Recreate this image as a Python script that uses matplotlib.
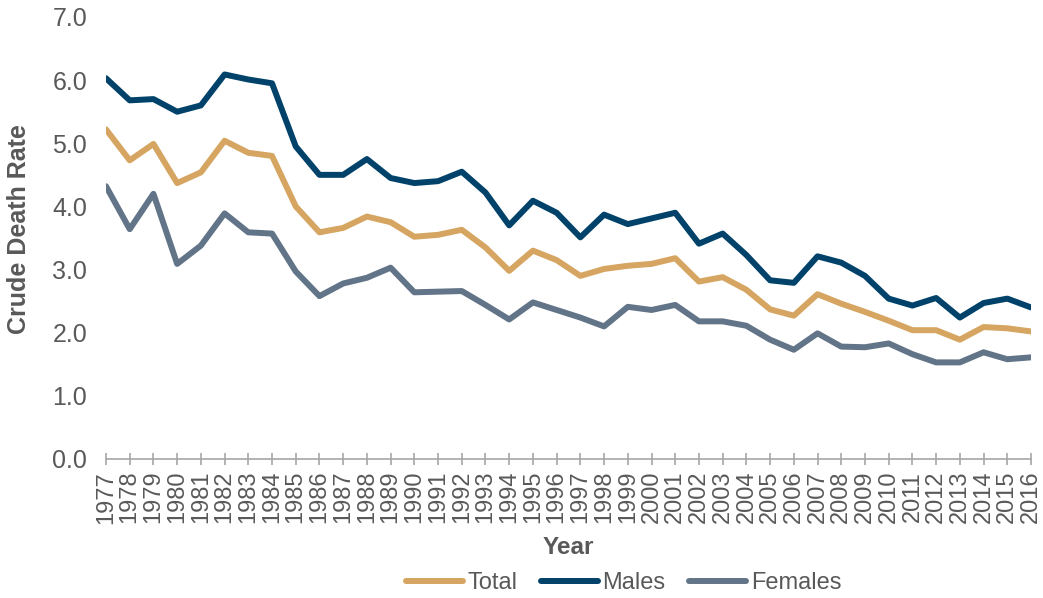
import numpy as np
import matplotlib
matplotlib.use("Agg")
import matplotlib.pyplot as plt

plt.rcParams["font.family"] = ["Liberation Sans", "DejaVu Sans"]

years = list(range(1977, 2017))

total = [5.22, 4.73, 4.99, 4.37, 4.54, 5.04, 4.85, 4.80, 4.00, 3.59,
         3.66, 3.84, 3.75, 3.52, 3.55, 3.63, 3.35, 2.98, 3.30, 3.15,
         2.90, 3.01, 3.06, 3.09, 3.18, 2.81, 2.88, 2.68, 2.37, 2.27,
         2.61, 2.46, 2.33, 2.19, 2.04, 2.04, 1.89, 2.09, 2.07, 2.02]

males = [6.03, 5.68, 5.70, 5.50, 5.60, 6.09, 6.01, 5.95, 4.95, 4.50,
         4.50, 4.75, 4.45, 4.37, 4.40, 4.55, 4.22, 3.70, 4.09, 3.90,
         3.51, 3.87, 3.72, 3.81, 3.90, 3.41, 3.57, 3.23, 2.83, 2.79,
         3.21, 3.11, 2.90, 2.54, 2.43, 2.55, 2.24, 2.47, 2.54, 2.40]

females = [4.32, 3.64, 4.20, 3.09, 3.38, 3.89, 3.59, 3.57, 2.97, 2.58,
           2.78, 2.87, 3.03, 2.64, 2.65, 2.66, 2.44, 2.21, 2.48, 2.36,
           2.24, 2.10, 2.41, 2.36, 2.44, 2.18, 2.18, 2.11, 1.89, 1.73,
           1.99, 1.78, 1.77, 1.83, 1.66, 1.53, 1.53, 1.69, 1.58, 1.61]

c_total = "#D5A561"
c_males = "#00426A"
c_females = "#627487"
txt = "#595959"

fig = plt.figure(figsize=(10.43, 5.98), dpi=100)
ax = fig.add_axes([106 / 1043, 1 - 459 / 598, (1031 - 106) / 1043, (459 - 17) / 598])

lw = 4.3
ax.plot(years, total, color=c_total, lw=lw, label="Total", solid_capstyle="round")
ax.plot(years, males, color=c_males, lw=lw, label="Males", solid_capstyle="round")
ax.plot(years, females, color=c_females, lw=lw, label="Females", solid_capstyle="round")

ax.set_xlim(1977, 2016)
ax.set_ylim(0, 7)
ax.set_yticks(np.arange(0, 7.1, 1.0))
ax.set_yticklabels([f"{v:.1f}" for v in np.arange(0, 7.1, 1.0)])
ax.set_xticks(years)
ax.set_xticklabels([str(y) for y in years], rotation=90)

for s in ["top", "right", "left"]:
    ax.spines[s].set_visible(False)
ax.spines["bottom"].set_color("#A6A6A6")
ax.spines["bottom"].set_linewidth(1.2)
ax.tick_params(axis="x", direction="inout", length=9, width=1.2, color="#A6A6A6",
               labelsize=17, labelcolor=txt, pad=4)
ax.tick_params(axis="y", length=0, labelsize=18, labelcolor=txt, pad=13.5)

ax.set_xlabel("Year", fontsize=17.5, fontweight="bold", color=txt)
ax.set_ylabel("Crude Death Rate", fontsize=18, fontweight="bold", color=txt)
ax.xaxis.set_label_coords(0.5, -0.201)
ax.yaxis.set_label_coords(-0.094, 0.52)
ax.xaxis.label.set_va("center")
ax.yaxis.label.set_va("center")

fig.legend(loc="center", bbox_to_anchor=(0.598, 0.025), ncol=3, frameon=False,
           fontsize=17, handlelength=2.4, handletextpad=0.2, columnspacing=1.0,
           labelcolor=txt)

fig.savefig("out.png", dpi=100)
